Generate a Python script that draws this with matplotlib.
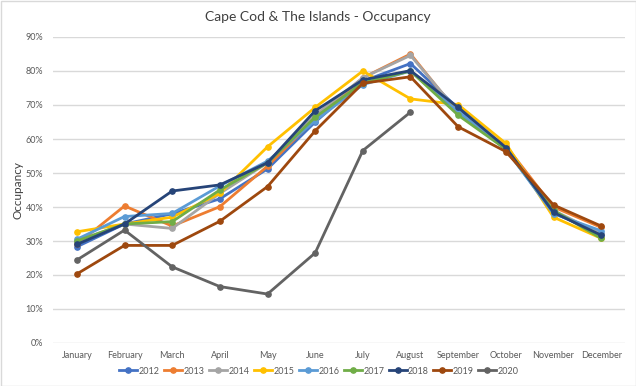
import matplotlib
matplotlib.use("Agg")
import matplotlib.pyplot as plt
from matplotlib.ticker import PercentFormatter
from matplotlib.patches import Rectangle

plt.rcParams['font.family'] = ['Lato', 'DejaVu Sans']

months = ["January", "February", "March", "April", "May", "June", "July",
          "August", "September", "October", "November", "December"]

y2012 = [28.3, 35.0, 38.0, 42.4, 51.2, 65.0, 77.0, 82.2, 69.0, 57.0, 38.3, 32.0]
y2013 = [29.0, 40.3, 34.4, 40.1, 52.0, 66.0, 78.0, 85.0, 67.6, 58.0, 40.0, 34.0]
y2014 = [30.0, 35.0, 33.7, 44.0, 53.0, 67.0, 78.0, 84.6, 68.0, 57.0, 39.0, 32.0]
y2015 = [32.7, 35.0, 37.0, 44.0, 57.7, 69.3, 80.0, 71.8, 70.1, 58.7, 37.0, 30.8]
y2016 = [30.5, 37.2, 38.1, 46.2, 53.5, 65.4, 76.0, 80.0, 68.0, 57.0, 38.0, 33.0]
y2017 = [30.0, 35.0, 35.7, 45.0, 53.0, 66.4, 76.5, 80.0, 67.0, 57.0, 39.0, 30.8]
y2018 = [29.0, 35.0, 44.7, 46.5, 53.0, 68.3, 77.4, 80.1, 69.3, 57.5, 38.4, 31.7]
y2019 = [20.3, 28.7, 28.7, 35.8, 46.0, 62.4, 76.4, 78.3, 63.6, 56.3, 40.6, 34.4]
y2020 = [24.4, 33.2, 22.4, 16.6, 14.4, 26.5, 56.6, 67.9]

series = [("2012", y2012, "#4472C4"), ("2013", y2013, "#ED7D31"),
          ("2014", y2014, "#A5A5A5"), ("2015", y2015, "#FFC000"),
          ("2016", y2016, "#5B9BD5"), ("2017", y2017, "#70AD47"),
          ("2018", y2018, "#264478"), ("2019", y2019, "#9E480E"),
          ("2020", y2020, "#636363")]

fig = plt.figure(figsize=(6.36, 3.86), dpi=100)
ax = fig.add_axes([53/636, 1-343/386, (625-53)/636, (343-37)/386])

for name, vals, col in series:
    ax.plot(range(len(vals)), vals, color=col, lw=2, marker='o', ms=3.8,
            label=name, solid_joinstyle='round')

ax.set_xlim(-0.5, 11.5)
ax.set_ylim(0, 90)
ax.set_yticks(range(0, 91, 10))
ax.yaxis.set_major_formatter(PercentFormatter(decimals=0))
ax.set_xticks(range(12))
ax.set_xticklabels(months)
ax.grid(axis='y', color='#D9D9D9', lw=1)
ax.set_axisbelow(True)
for s in ax.spines.values():
    s.set_visible(False)
ax.tick_params(axis='both', length=0, labelsize=6.5, colors='#595959')
ax.tick_params(axis='x', pad=6)
ax.tick_params(axis='y', pad=7)

fig.text(318/636, 1-17/386, "Cape Cod & The Islands - Occupancy", ha='center',
         va='center', fontsize=10, color='#404040')
fig.text(18/636, 1-190/386, "Occupancy", rotation=90, ha='center', va='center',
         fontsize=8.5, color='#404040')

fig.legend(loc='center', bbox_to_anchor=(319/636, 1-371/386), ncol=9,
           frameon=False, fontsize=6.5, handlelength=2.0, columnspacing=0.5,
           handletextpad=0.15, labelcolor='#595959', borderpad=0)

fig.patches.append(Rectangle((0.5/636, 0.5/386), 1-1/636, 1-1/386,
                             transform=fig.transFigure, fill=False,
                             edgecolor='#D9D9D9', lw=1))

fig.savefig("out.png", dpi=100)
